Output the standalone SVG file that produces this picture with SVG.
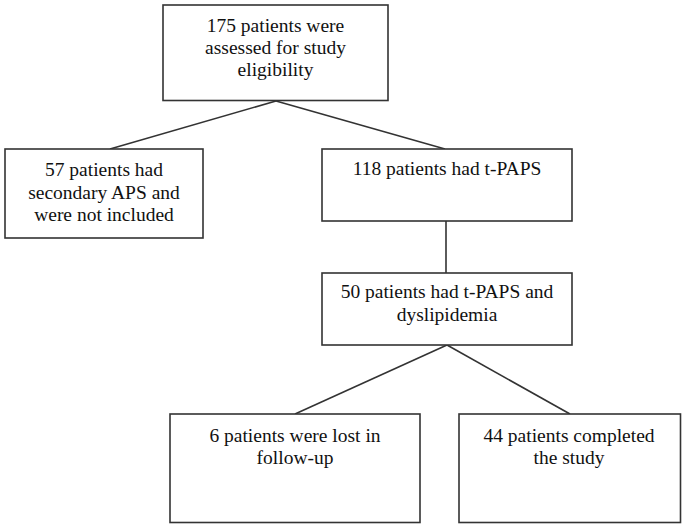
<svg xmlns="http://www.w3.org/2000/svg" width="685" height="529" viewBox="0 0 685 529">
<style>
.box{fill:#fff;stroke:#333;stroke-width:1.6}
.ln{stroke:#333;stroke-width:1.6;fill:none}
.t{font-family:'Liberation Serif','Times New Roman','DejaVu Serif',serif;font-size:19.5px;fill:#111;text-anchor:middle}
</style>
<rect width="685" height="529" fill="#fff"/>
<g id="connectors">
<line class="ln" x1="276" y1="101" x2="110" y2="149"/>
<line class="ln" x1="276" y1="101" x2="445" y2="149"/>
<line class="ln" x1="446" y1="221" x2="446" y2="273"/>
<line class="ln" x1="447" y1="345" x2="295" y2="414"/>
<line class="ln" x1="447" y1="345" x2="570" y2="414"/>
</g>
<g id="n1">
<rect class="box" x="163" y="5" width="225" height="95.5"/>
<text class="t" font-family="Liberation Serif, serif" x="275.5" y="31.5">175 patients were</text>
<text class="t" font-family="Liberation Serif, serif" x="275.5" y="54">assessed for study</text>
<text class="t" font-family="Liberation Serif, serif" x="275.5" y="76">eligibility</text>
</g>
<g id="n2">
<rect class="box" x="5" y="149" width="198" height="89"/>
<text class="t" font-family="Liberation Serif, serif" x="104" y="176">57 patients had</text>
<text class="t" font-family="Liberation Serif, serif" x="104" y="198.5">secondary APS and</text>
<text class="t" font-family="Liberation Serif, serif" x="104" y="221">were not included</text>
</g>
<g id="n3">
<rect class="box" x="322" y="149" width="250" height="72"/>
<text class="t" font-family="Liberation Serif, serif" x="447" y="175">118 patients had t-PAPS</text>
</g>
<g id="n4">
<rect class="box" x="322" y="273" width="250" height="72"/>
<text class="t" font-family="Liberation Serif, serif" x="447" y="298">50 patients had t-PAPS and</text>
<text class="t" font-family="Liberation Serif, serif" x="447" y="320.5">dyslipidemia</text>
</g>
<g id="n5">
<rect class="box" x="170" y="414" width="250" height="108.5"/>
<text class="t" font-family="Liberation Serif, serif" x="295" y="441.5">6 patients were lost in</text>
<text class="t" font-family="Liberation Serif, serif" x="295" y="463.5">follow-up</text>
</g>
<g id="n6">
<rect class="box" x="459" y="414" width="221.5" height="108.5"/>
<text class="t" font-family="Liberation Serif, serif" x="569" y="441.5">44 patients completed</text>
<text class="t" font-family="Liberation Serif, serif" x="569" y="463.5">the study</text>
</g>
</svg>
